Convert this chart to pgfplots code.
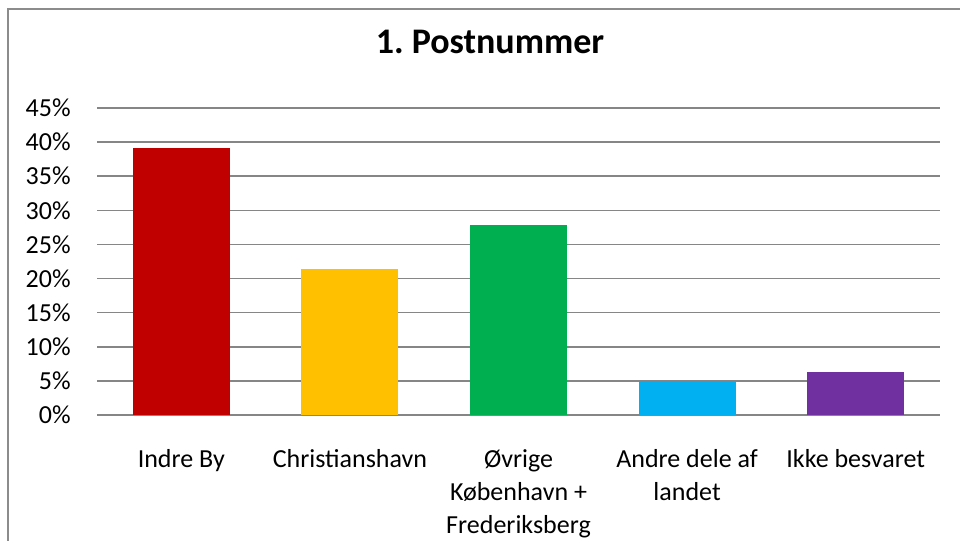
\documentclass[border=0pt]{standalone}
\usepackage{fontspec}
\setmainfont{Carlito}
\usepackage{pgfplots}
\pgfplotsset{compat=1.18}
\definecolor{barred}{HTML}{C00000}
\definecolor{baryellow}{HTML}{FFC000}
\definecolor{bargreen}{HTML}{00B050}
\definecolor{barblue}{HTML}{00B0F0}
\definecolor{barpurple}{HTML}{7030A0}
\definecolor{gridgray}{HTML}{868686}
\definecolor{framegray}{HTML}{8C8C8C}

\begin{document}
\begin{tikzpicture}
  % page size fixed to the reference (1px = 0.5bp)
  \path[use as bounding box] (-48.5bp,-63bp) rectangle (431.5bp,207.5bp);
  % chart frame (left and top edges only are visible)
  \draw[framegray, line width=0.8bp] (-44.5bp,-70bp) -- (-44.5bp,203bp) -- (440bp,203bp);
  \begin{axis}[
    scale only axis,
    width=421.5bp, height=153.5bp,
    xmin=-0.5, xmax=4.5,
    ymin=0, ymax=45,
    xtick={0,1,2,3,4},
    xticklabels={
      {Indre By},
      {Christianshavn},
      {Øvrige\\København +\\Frederiksberg},
      {Andre dele af\\landet},
      {Ikke besvaret}
    },
    ytick={0,5,...,45},
    yticklabels={0\%,5\%,10\%,15\%,20\%,25\%,30\%,35\%,40\%,45\%},
    tick label style={font=\fontsize{13bp}{16.5bp}\selectfont, text=black},
    xticklabel style={align=center, anchor=north, inner sep=0pt, yshift=-13bp},
    yticklabel style={anchor=east, inner sep=0pt, xshift=-13bp},
    axis line style={draw=none},
    tick style={draw=none},
    ymajorgrids,
    major grid style={gridgray, line width=0.8bp},
    ybar, bar width=48.5bp, bar shift=0pt,
    title={1.\ Postnummer},
    title style={at={(rel axis cs:0.4662,1.176)}, anchor=center,
      font=\fontsize{18bp}{22bp}\selectfont\bfseries},
  ]
  \addplot[fill=barred, draw=none] coordinates {(0,39.2)};
  \addplot[fill=baryellow, draw=none] coordinates {(1,21.4)};
  \addplot[fill=bargreen, draw=none] coordinates {(2,27.9)};
  \addplot[fill=barblue, draw=none] coordinates {(3,5.0)};
  \addplot[fill=barpurple, draw=none] coordinates {(4,6.3)};
  \end{axis}
\end{tikzpicture}
\end{document}
